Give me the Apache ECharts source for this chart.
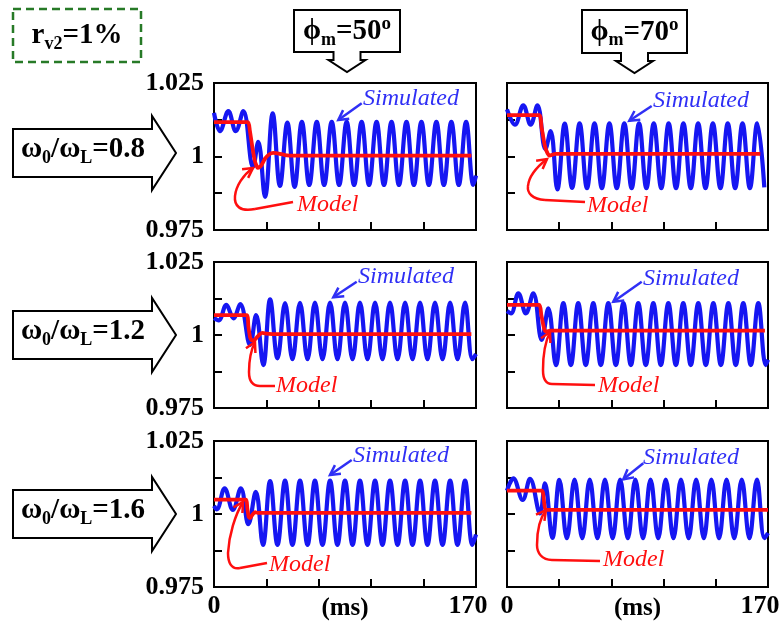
<!DOCTYPE html>
<html><head><meta charset="utf-8">
<script src="https://cdn.jsdelivr.net/npm/echarts@6/dist/echarts.min.js"></script>
<style>html,body{margin:0;padding:0;background:#fff}#c{width:780px;height:624px}</style>
</head><body><div id="c"></div><script>
// ---------------- data ----------------
const xTicks = ['0', '170'];
const yTicks = ['0.975', '1', '1.025'];
const ratioLabels = ['0.8', '1.2', '1.6'];   // ω0/ωL for each row
const phaseLabels = ['50', '70'];            // ϕm for each column
const rv2Label = '1%';

// row 1 (ω0/ωL = 0.8), ϕm = 50°
const simA = [[0,1.0148],[3.9,1.0086],[9.3,1.0154],[14.1,1.0086],[19.0,1.0154],[25.3,0.9965],[28.7,1.0050],[33.1,0.9863],[38.1,1.0147],[42.8,0.9900],[47.6,1.0115],[52.3,0.9897],[57.0,1.0118],[61.8,0.9903],[66.7,1.0118],[71.5,0.9903],[76.4,1.0118],[81.2,0.9903],[86.1,1.0118],[90.9,0.9903],[95.8,1.0118],[100.6,0.9903],[105.5,1.0118],[110.3,0.9903],[115.2,1.0118],[120.0,0.9903],[124.9,1.0118],[129.7,0.9903],[134.6,1.0118],[139.4,0.9903],[144.3,1.0118],[149.1,0.9903],[154.0,1.0118],[158.8,0.9903],[163.6,1.0118],[168.3,0.9903],[170,0.9935]];
const modelA = [[0,1.0117],[22.0,1.0117],[23.2,1.0090],[24.8,1.0035],[26.5,0.9985],[28.5,0.9961],[30.5,0.9968],[33,0.9992],[35.5,1.0006],[38.5,1.0012],[42,1.0010],[46,1.0005],[52,1.0003],[167,1.0003]];
// row 1, ϕm = 70°
const simB = [[0,1.0160],[5.2,1.0108],[10.6,1.0174],[15.4,1.0108],[19.8,1.0174],[25.0,1.0025],[28.4,1.0086],[32.8,0.9888],[37.6,1.0112],[42.4,0.9893],[47.3,1.0113],[52.1,0.9892],[57.0,1.0113],[61.8,0.9892],[66.7,1.0113],[71.5,0.9892],[76.4,1.0113],[81.2,0.9892],[86.0,1.0113],[90.8,0.9892],[95.6,1.0113],[100.5,0.9892],[105.3,1.0113],[110.1,0.9892],[114.9,1.0113],[119.7,0.9892],[124.5,1.0113],[129.3,0.9892],[134.1,1.0113],[139.0,0.9892],[143.8,1.0113],[148.6,0.9892],[153.4,1.0113],[158.2,0.9892],[163.0,1.0113],[167.6,0.9895]];
const modelB = [[0,1.0141],[21.0,1.0141],[22.5,1.0100],[24.7,1.0035],[26.5,1.0010],[27.8,1.0003],[29.5,1.0006],[31.5,1.0009],[165,1.0009]];
// row 2 (ω0/ωL = 1.2), ϕm = 50°
const simC = [[0,1.0058],[3.0,1.0050],[8.0,1.0103],[12.6,1.0057],[17.0,1.0106],[23.4,0.9966],[27.3,1.0068],[32.0,0.9897],[36.4,1.0122],[41.2,0.9920],[46.1,1.0109],[50.9,0.9917],[55.8,1.0110],[60.7,0.9917],[65.5,1.0111],[70.4,0.9917],[75.3,1.0111],[80.1,0.9917],[85.0,1.0111],[89.9,0.9917],[94.7,1.0111],[99.6,0.9917],[104.5,1.0111],[109.3,0.9917],[114.2,1.0111],[119.1,0.9917],[124.0,1.0111],[128.8,0.9917],[133.7,1.0111],[138.5,0.9917],[143.4,1.0111],[148.3,0.9917],[153.2,1.0111],[158.0,0.9917],[162.9,1.0111],[167.7,0.9917],[170,0.9935]];
const modelC = [[0,1.0068],[21.2,1.0068],[22.3,1.0030],[23.4,0.9992],[24.5,0.9982],[25.8,0.9981],[27.5,0.9990],[29.5,1.0002],[31.5,1.0007],[34,1.0005],[40,1.0003],[167,1.0003]];
// row 2, ϕm = 70°
const simD = [[0,1.0082],[2.6,1.0074],[7.4,1.0143],[12.3,1.0074],[17.1,1.0143],[22.6,0.9983],[26.9,1.0091],[31.9,0.9897],[36.7,1.0109],[41.6,0.9897],[46.4,1.0109],[51.3,0.9897],[56.2,1.0109],[61.1,0.9897],[66.0,1.0109],[70.9,0.9897],[75.8,1.0109],[80.7,0.9897],[85.5,1.0109],[90.4,0.9897],[95.3,1.0109],[100.2,0.9897],[105.1,1.0109],[110.0,0.9897],[114.8,1.0109],[119.7,0.9897],[124.6,1.0109],[129.5,0.9897],[134.4,1.0109],[139.3,0.9897],[144.2,1.0109],[149.0,0.9897],[153.9,1.0109],[158.8,0.9897],[163.7,1.0109],[168.5,0.9897],[170,0.9915]];
const modelD = [[0,1.0103],[21.0,1.0103],[22.3,1.0070],[23.6,1.0035],[24.7,1.0014],[26.0,1.0012],[28,1.0015],[168,1.0015]];
// row 3 (ω0/ωL = 1.6), ϕm = 50°
const simE = [[0,1.0028],[1.8,1.0016],[6.9,1.0088],[12.2,1.0014],[17.4,1.0088],[22.3,0.9965],[27.1,1.0076],[31.8,0.9894],[36.4,1.0113],[41.2,0.9894],[46.1,1.0114],[50.9,0.9894],[55.8,1.0114],[60.7,0.9894],[65.5,1.0114],[70.4,0.9894],[75.3,1.0114],[80.1,0.9894],[85.0,1.0114],[89.9,0.9894],[94.7,1.0114],[99.6,0.9894],[104.5,1.0114],[109.3,0.9894],[114.2,1.0114],[119.1,0.9894],[124.0,1.0114],[128.8,0.9894],[133.7,1.0114],[138.5,0.9894],[143.4,1.0114],[148.3,0.9894],[153.2,1.0114],[158.0,0.9894],[162.9,1.0114],[167.7,0.9894],[170,0.9930]];
const modelE = [[0,1.0049],[20.8,1.0049],[21.6,1.0020],[22.5,0.9990],[23.5,0.9986],[25,0.9998],[26.6,1.0006],[28.5,1.0004],[167,1.0004]];
// row 3, ϕm = 70°
const simF = [[0,1.0080],[4.1,1.0122],[10.2,1.0048],[15.0,1.0120],[21.5,1.0002],[24.7,1.0105],[29.6,0.9918],[34.1,1.0117],[39.0,0.9917],[44.0,1.0118],[49.0,0.9917],[53.9,1.0118],[58.9,0.9917],[63.8,1.0118],[68.8,0.9917],[73.7,1.0118],[78.7,0.9917],[83.6,1.0118],[88.6,0.9917],[93.5,1.0118],[98.5,0.9917],[103.4,1.0118],[108.4,0.9917],[113.3,1.0118],[118.3,0.9917],[123.2,1.0118],[128.2,0.9917],[133.1,1.0118],[138.1,0.9917],[143.0,1.0118],[148.0,0.9917],[152.9,1.0118],[157.9,0.9917],[162.8,1.0118],[167.7,0.9917],[170,0.9935]];
const modelF = [[0,1.0080],[22.6,1.0080],[25.9,1.0014],[170,1.0014]];

// ---------------- layout ----------------
const SERIF = '"Liberation Serif", "Times New Roman", "DejaVu Serif", serif';
const BLUE = '#1616f2', BLUE_T = '#2f2ff5', RED = '#ff0f0f';
const cols = [{left:214, width:262}, {left:507, width:261}];
const rows = [{top:83, height:147}, {top:262, height:146}, {top:441, height:146}];
const panels = [
  {sim:simA, model:modelA, r:0, c:0}, {sim:simB, model:modelB, r:0, c:1},
  {sim:simC, model:modelC, r:1, c:0}, {sim:simD, model:modelD, r:1, c:1},
  {sim:simE, model:modelE, r:2, c:0}, {sim:simF, model:modelF, r:2, c:1}
];

function yFmt(v){ for (const s of yTicks) if (Math.abs(parseFloat(s)-v) < 1e-7) return s; return ''; }
function xFmt(v){
  if (Math.abs(v - parseFloat(xTicks[0])) < 1e-6) return xTicks[0];
  if (Math.abs(v - parseFloat(xTicks[1])) < 1e-6) return '{r|' + xTicks[1] + '}';
  return '';
}
const numFont = {fontFamily:SERIF, fontWeight:'bold', fontSize:26, color:'#000'};

const grid = [], xAxis = [], yAxis = [], series = [];
panels.forEach((p, i) => {
  grid.push({left:cols[p.c].left, width:cols[p.c].width, top:rows[p.r].top, height:rows[p.r].height,
    show:true, borderColor:'#000', borderWidth:2, backgroundColor:'transparent', containLabel:false,
    outerBoundsMode:'none'});
  const bottom = p.r === 2;
  xAxis.push({type:'value', gridIndex:i, min:0, max:170, interval:34,
    axisLine:{show:false}, splitLine:{show:false},
    axisTick:{show:true, inside:true, length:8, lineStyle:{color:'#000', width:2}},
    axisLabel:{show:bottom, formatter:xFmt, margin:6, ...numFont,
      rich:{r:{...numFont, padding:[0,16,0,0]}}},
    name: bottom ? '(ms)' : '', nameLocation:'middle', nameGap:9, nameMoveOverlap:false,
    nameTextStyle:{fontFamily:SERIF, fontWeight:'bold', fontSize:25, color:'#000', verticalAlign:'top'}
  });
  yAxis.push({type:'value', gridIndex:i, min:0.975, max:1.025, interval:0.0125,
    axisLine:{show:false}, splitLine:{show:false},
    axisTick:{show:true, inside:true, length:8, lineStyle:{color:'#000', width:2}},
    axisLabel:{show:p.c === 0, formatter:yFmt, margin:10, ...numFont}
  });
  series.push({type:'line', xAxisIndex:i, yAxisIndex:i, data:p.sim, smooth:0.4, showSymbol:false, symbol:'none',
    lineStyle:{color:BLUE, width:4.2}, z:2, silent:true, animation:false});
  series.push({type:'line', xAxisIndex:i, yAxisIndex:i, data:p.model, smooth:0.2, showSymbol:false, symbol:'none',
    lineStyle:{color:RED, width:3.8}, z:3, silent:true, animation:false});
});

// ---------------- annotations ----------------
const G = [];
function head(tx, ty, fx, fy, color){
  const a = Math.atan2(fy-ty, fx-tx), L = 11, w = 0.5;
  return {type:'polyline', z:100, shape:{points:[[tx+L*Math.cos(a+w), ty+L*Math.sin(a+w)],[tx,ty],[tx+L*Math.cos(a-w), ty+L*Math.sin(a-w)]]},
    style:{stroke:color, fill:'none', lineWidth:2.5}};
}
function text(x, y, str, font, color){
  return {type:'text', z:100, x:x, y:y, style:{text:str, font:font, fill:color, align:'left', verticalAlign:'middle', textAlign:'left', textVerticalAlign:'middle'}};
}
const simAnno = [
  {t:[363,99],  a:[361.7,103.3,338.3,120]},
  {t:[653,101], a:[651.7,106,629.3,120.7]},
  {t:[358,277], a:[356.7,281.7,333.3,297.3]},
  {t:[643,279], a:[641.7,281.7,613.3,301.7]},
  {t:[353,456], a:[351.7,460,330,475]},
  {t:[643,458], a:[643.3,463.3,623.3,479.3]}
];
simAnno.forEach(s => {
  G.push(text(s.t[0], s.t[1], 'Simulated', 'italic 24px ' + SERIF, BLUE_T));
  G.push({type:'line', z:100, shape:{x1:s.a[0], y1:s.a[1], x2:s.a[2], y2:s.a[3]}, style:{stroke:BLUE_T, lineWidth:2.5}});
  G.push(head(s.a[2], s.a[3], s.a[0], s.a[1], BLUE_T));
});
// red curved arrows: start, corner, bezier1 (c1,c2,end), bezier2 (c1,c2,tip)
const modelAnno = [
  {t:[297,205], p:[[293,202],[255,209],[240,212],[234,206],[235,196],[236,186],[243,175],[253,168]]},
  {t:[587,206], p:[[585,202],[545,200],[532,199],[527,193],[528,186],[529,175],[538,166],[547,159]]},
  {t:[276,386], p:[[275,386],[260,386],[252,386],[249,380],[249,372],[249,360],[251,350],[255,342]]},
  {t:[598,386], p:[[595,385],[552,384],[545,384],[543,378],[543,370],[543,355],[545,342],[550,332]]},
  {t:[269,565], p:[[267,563],[240,568],[231,570],[228,562],[228,553],[229,535],[235,515],[243,502]]},
  {t:[603,560], p:[[600,561],[552,560],[542,560],[537,553],[537,545],[537,532],[540,518],[546,510]]}
];
modelAnno.forEach(m => {
  const p = m.p;
  G.push(text(m.t[0], m.t[1], 'Model', 'italic 24px ' + SERIF, RED));
  G.push({type:'line', z:100, shape:{x1:p[0][0], y1:p[0][1], x2:p[1][0], y2:p[1][1]}, style:{stroke:RED, lineWidth:2.5}});
  G.push({type:'bezierCurve', z:100, shape:{x1:p[1][0], y1:p[1][1], cpx1:p[2][0], cpy1:p[2][1], cpx2:p[3][0], cpy2:p[3][1], x2:p[4][0], y2:p[4][1]}, style:{stroke:RED, fill:'none', lineWidth:2.5}});
  G.push({type:'bezierCurve', z:100, shape:{x1:p[4][0], y1:p[4][1], cpx1:p[5][0], cpy1:p[5][1], cpx2:p[6][0], cpy2:p[6][1], x2:p[7][0], y2:p[7][1]}, style:{stroke:RED, fill:'none', lineWidth:2.5}});
  G.push(head(p[7][0], p[7][1], p[6][0], p[6][1], RED));
});

const rich = {
  m:{fontFamily:SERIF, fontWeight:'bold', fontSize:29, lineHeight:34, fill:'#000'},
  s:{fontFamily:SERIF, fontWeight:'bold', fontSize:18, lineHeight:18, verticalAlign:'bottom', fill:'#000'},
  u:{fontFamily:SERIF, fontWeight:'bold', fontSize:19, lineHeight:18, verticalAlign:'top', fill:'#000'}
};
function richText(x, y, str){
  return {type:'text', z:100, x:x, y:y, style:{text:str, rich:rich, align:'center', verticalAlign:'middle', textAlign:'center', textVerticalAlign:'middle'}};
}
// r_v2 dashed box
G.push({type:'rect', z:100, shape:{x:13, y:9, width:128, height:53}, style:{fill:'none', stroke:'#277a27', lineWidth:2.5, lineDash:[8,5]}});
G.push(richText(77, 36, '{m|r}{s|v2}{m|=' + rv2Label + '}'));
// ϕm callouts
[[347, 294, 400, 10, 52], [634.5, 582, 687, 10, 53]].forEach((c, i) => {
  const [cx, x0, x1, y0, y1] = c;
  G.push({type:'polygon', z:100, shape:{points:[[x0,y0],[x1,y0],[x1,y1],[cx+13.5,y1],[cx+13.5,y1+8],[cx+18.5,y1+8],[cx,y1+20],[cx-18.5,y1+8],[cx-13.5,y1+8],[cx-13.5,y1],[x0,y1]]},
    style:{fill:'#fff', stroke:'#000', lineWidth:2}});
  G.push(richText(cx, (y0+y1)/2 + 1, '{m|ϕ}{s|m}{m|=' + phaseLabels[i] + '}{u|o}'));
});
// ω0/ωL arrows
[153, 335, 514].forEach((cy, i) => {
  G.push({type:'polygon', z:100, shape:{points:[[13,cy-24],[152,cy-24],[152,cy-37],[176,cy],[152,cy+37],[152,cy+24],[13,cy+24]]},
    style:{fill:'#fff', stroke:'#000', lineWidth:2}});
  G.push(richText(83, cy - 3, '{m|ω}{s|0}{m|/ω}{s|L}{m|=' + ratioLabels[i] + '}'));
});

const chart = echarts.init(document.getElementById('c'), null, {renderer:'canvas'});
chart.setOption({animation:false, backgroundColor:'#fff', grid, xAxis, yAxis, series, graphic:{elements:G}});
</script></body></html>
